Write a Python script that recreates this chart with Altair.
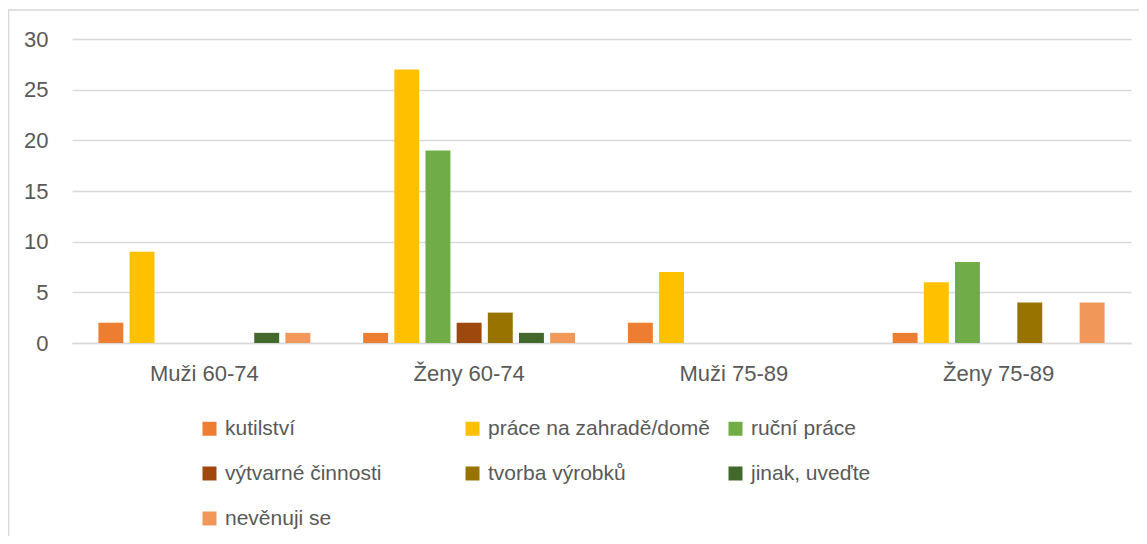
import altair as alt
import pandas as pd

groups = ["Muži 60-74", "Ženy 60-74", "Muži 75-89", "Ženy 75-89"]
series = ["kutilství", "práce na zahradě/domě", "ruční práce",
          "výtvarné činnosti", "tvorba výrobků", "jinak, uveďte", "nevěnuji se"]
colors = ["#ED7D31", "#FFC000", "#70AD47", "#9E480E", "#997300", "#43682B", "#F1975A"]

kutilstvi = [2, 1, 2, 1]
prace_zahrada = [9, 27, 7, 6]
rucni_prace = [0, 19, 0, 8]
vytvarne = [0, 2, 0, 0]
tvorba = [0, 3, 0, 4]
jinak = [1, 1, 0, 0]
nevenuji = [1, 1, 0, 4]

vals = [kutilstvi, prace_zahrada, rucni_prace, vytvarne, tvorba, jinak, nevenuji]
rows = []
for s, v in zip(series, vals):
    for g, x in zip(groups, v):
        rows.append({"skupina": g, "činnost": s, "počet": x})
df = pd.DataFrame(rows)

FONT = "Liberation Sans"
TXT = "#595959"
GRID = "#D9D9D9"

bars = alt.Chart(df).mark_bar().encode(
    x=alt.X("skupina:N", sort=groups, title=None,
            scale=alt.Scale(paddingInner=0.176, paddingOuter=0.088),
            axis=alt.Axis(labelAngle=0, labelFontSize=22, labelColor=TXT, labelFont=FONT,
                          ticks=False, domain=True, domainColor=GRID, domainWidth=1.5,
                          labelPadding=20, grid=False)),
    xOffset=alt.XOffset("činnost:N", sort=series,
                        scale=alt.Scale(paddingInner=0.2, paddingOuter=0.1)),
    y=alt.Y("počet:Q", title=None,
            scale=alt.Scale(domain=[0, 30], nice=False),
            axis=alt.Axis(values=[0, 5, 10, 15, 20, 25, 30], labelFontSize=22,
                          labelColor=TXT, labelFont=FONT, ticks=False, domain=False,
                          gridColor=GRID, gridWidth=1.5, labelPadding=24)),
    color=alt.Color("činnost:N", sort=series,
                    scale=alt.Scale(domain=series, range=colors),
                    legend=alt.Legend(title=None, orient="none", legendX=127, legendY=379,
                                      columns=3, gridAlign="all", columnPadding=15,
                                      rowPadding=23, symbolType="square", symbolSize=196,
                                      symbolStrokeWidth=0, labelFontSize=21, labelFont=FONT,
                                      labelColor=TXT, labelLimit=500, labelOffset=5,
                                      direction="horizontal")),
)

frame_data = alt.Data(values=[{}])
frame_left = alt.Chart(frame_data).mark_rule(color=GRID, strokeWidth=1.5).encode(
    x=alt.value(-63.5), y=alt.value(-29), y2=alt.value(520)
)
frame_top = alt.Chart(frame_data).mark_rule(color=GRID, strokeWidth=1.5).encode(
    y=alt.value(-29), x=alt.value(-64), x2=alt.value(1067)
)

chart = alt.layer(frame_left, frame_top, bars).properties(
    width=1059, height=304,
    autosize=alt.AutoSizeParams(type="none"),
    padding={"left": 64, "top": 31, "right": 8, "bottom": 193},
    background="white",
).configure_view(stroke=None)

chart.save("out.html", embed_options={"renderer": "svg", "actions": False})
